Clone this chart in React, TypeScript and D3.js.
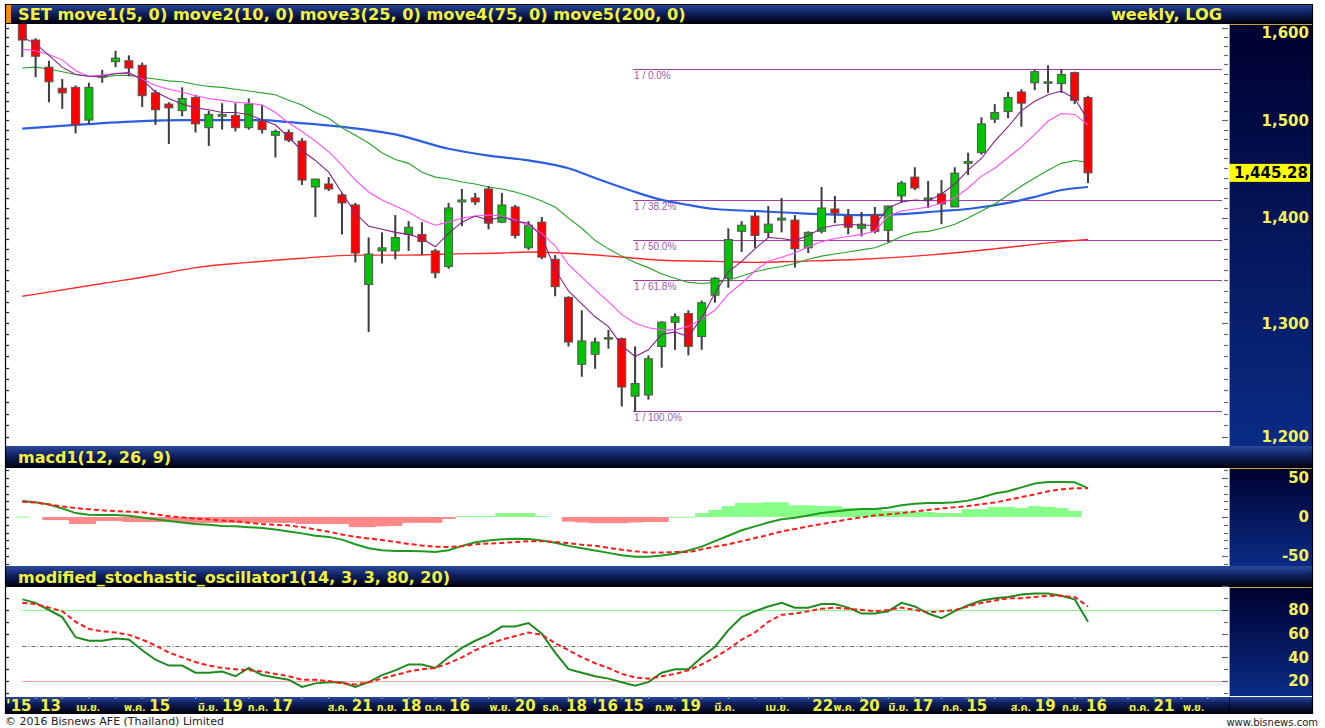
import React from "react";
import * as d3 from "d3";

// ---------- DATA (weekly SET index) ----------
const open = [1612,1587,1557,1534,1535,1500,1546,1563,1564,1559,1529,1517,1510,1524,1492,1504,1505,1492,1499,1484,1487,1478,1431,1434,1423,1413,1336,1368,1368,1384,1384,1368,1353,1416,1420,1429,1396,1411,1371,1396,1360,1324,1263,1272,1286,1286,1235,1236,1279,1301,1309,1288,1326,1342,1387,1402,1386,1398,1398,1371,1387,1409,1402,1390,1403,1388,1422,1441,1419,1424,1411,1455,1466,1501,1509,1530,1540,1540,1539,1551,1524];
const high = [1618,1589,1564,1544,1537,1540,1554,1575,1570,1562,1532,1519,1535,1527,1510,1518,1518,1523,1516,1490,1490,1481,1439,1441,1425,1415,1381,1386,1403,1397,1396,1370,1415,1429,1425,1432,1425,1413,1397,1401,1364,1325,1312,1287,1294,1287,1279,1271,1302,1309,1312,1321,1343,1390,1397,1406,1412,1420,1403,1387,1431,1422,1409,1406,1411,1412,1437,1451,1437,1438,1451,1466,1503,1517,1530,1533,1554,1559,1555,1552,1526];
const low = [1568,1546,1519,1512,1486,1496,1540,1557,1547,1514,1495,1475,1504,1487,1473,1490,1488,1490,1486,1461,1477,1433,1401,1427,1384,1357,1292,1356,1360,1368,1364,1342,1351,1392,1413,1389,1395,1380,1369,1360,1325,1279,1252,1259,1277,1226,1222,1232,1260,1276,1271,1276,1319,1333,1367,1371,1381,1386,1352,1366,1385,1395,1384,1382,1385,1376,1415,1428,1410,1394,1411,1443,1464,1497,1502,1493,1532,1529,1529,1517,1435];
const close = [1587,1569,1541,1529,1495,1535,1548,1567,1556,1526,1511,1513,1523,1496,1506,1506,1492,1517,1490,1488,1479,1438,1439,1429,1415,1366,1365,1371,1381,1391,1377,1347,1410,1418,1416,1395,1413,1383,1393,1362,1334,1283,1284,1283,1287,1243,1246,1268,1301,1306,1279,1319,1342,1379,1393,1383,1394,1400,1370,1386,1410,1405,1391,1394,1387,1412,1435,1430,1420,1414,1445,1457,1496,1508,1524,1518,1552,1541,1549,1521,1445.28];

const ma5 = [1590,1583,1570,1557,1549,1547,1547,1550,1551,1543,1530,1523,1517,1513,1511,1508,1508,1506,1500,1495,1482,1468,1458,1446,1425,1405,1392,1389,1386,1384,1380,1372,1385,1396,1402,1398,1401,1397,1395,1382,1350,1330,1318,1306,1297,1280,1270,1276,1290,1292,1288,1305,1328,1348,1358,1370,1381,1380,1378,1383,1390,1393,1394,1393,1393,1410,1416,1418,1417,1424,1434,1448,1460,1478,1493,1510,1520,1527,1531,1523,1500];
const ma10 = [1577,1575,1571,1565,1553,1547,1548,1550,1550,1544,1537,1533,1530,1526,1523,1521,1519,1518,1516,1508,1497,1488,1478,1467,1453,1438,1426,1418,1412,1406,1398,1393,1396,1400,1402,1403,1402,1398,1393,1385,1373,1355,1343,1331,1320,1308,1300,1296,1294,1294,1297,1304,1312,1327,1337,1349,1358,1362,1366,1372,1377,1380,1382,1384,1387,1402,1407,1409,1411,1415,1420,1430,1442,1450,1461,1472,1485,1499,1507,1506,1495];
const ma25 = [1556,1557,1555,1552,1549,1547,1546,1548,1548,1546,1544,1542,1541,1538,1536,1535,1533,1531,1529,1527,1521,1516,1508,1502,1492,1484,1476,1466,1459,1455,1446,1441,1439,1436,1434,1431,1429,1426,1422,1417,1411,1400,1390,1378,1370,1363,1357,1352,1346,1342,1338,1337,1338,1340,1344,1348,1351,1353,1356,1360,1363,1365,1367,1369,1371,1376,1382,1386,1387,1390,1394,1400,1407,1414,1423,1432,1440,1448,1455,1458,1456];
const ma75 = [[0,1491],[4,1495],[9,1499],[12,1500],[18,1500],[20,1498],[24,1493],[28,1485],[32,1470],[35,1463],[38,1458],[41,1450],[43,1440],[46,1426],[48,1418],[50,1413],[52,1409],[55,1407],[58,1405],[63,1403],[66,1404],[69,1407],[71,1409],[74,1415],[76,1421],[78,1428],[80,1431]];
const ma200 = [[0,1325],[6,1337],[10,1345],[13,1352],[17,1357],[21,1361],[25,1364],[29,1364],[32,1365],[36,1366],[38,1367],[42,1365],[46,1361],[48,1359],[52,1358],[55,1357],[58,1358],[63,1360],[68,1364],[73,1370],[78,1377],[80,1379]];

const macd = [20.5,19,16,11,5,3,2.6,2.6,1.5,-0.5,-3,-5,-7,-9,-10,-11.5,-12,-13,-14,-16,-18.5,-21,-24,-25.5,-29,-35,-40,-42.5,-43.5,-43.5,-44,-45,-42.5,-37,-32.5,-30,-28.5,-28,-28.2,-30,-33,-37,-40,-43,-46,-49,-51,-51,-49.5,-47,-43,-38,-31,-24,-17,-12,-7,-3,-1,2,5,7,9,10.3,10.3,12,15,17,18,18,19,21,25,30,33,38,43,45,45,44.5,37];
const signal = [19.5,18.5,16,13.5,11.5,10,8.5,7.5,6.8,6,3.5,1,-0.5,-2,-3,-4.5,-5.5,-7.5,-9,-10,-11,-13,-16,-19,-22.5,-25.5,-27.5,-29.5,-32,-34.5,-36.5,-38,-38.5,-37.5,-35,-34,-33.3,-32,-31,-31,-32,-33.5,-35.5,-37,-39.5,-42,-44,-45.5,-45.5,-45,-45,-41.5,-38,-35,-31,-27,-23,-18.5,-15.5,-12,-9,-6,-3,-0.5,2,3.5,5,7,9,11,12.5,14,16.5,18.5,22,25.5,29,33,35.5,37,37];
const hist = [0.5,0,-4,-4,-9,-9,-5,-5,-6.5,-6.5,-6.5,-6.5,-7.5,-7.5,-7.5,-7.5,-7.5,-7.5,-7.5,-7.5,-7.5,-9,-9,-9,-9,-13,-13,-12,-11.5,-7.5,-7.5,-7.5,-2.5,1.3,1.3,1.3,5,5,5,1.3,0,-6,-7,-8,-8,-8,-7,-6.5,-6.5,0.4,0.4,5,9,14,18,18,19,19,15,15,14,14,11.5,11.5,11.5,7.7,7.7,6.4,6.4,5,5,10,10,13,13,11.5,14,13,11.5,7.7,null];

const stochK = [89,86,80,74,57,54,54,56,55,46,38,33,33,27,27,28,24,31,25,23,21,15,18,19,19,15,19,25,29,34,34,31,40,48,54,59,66,66,69,60,44,30,27,24,22,19,16,19,27,30,30,40,49,63,74,79,83,86,82,82,85,85,82,77,77,79,86,83,77,73,79,84,88,90,91,93,94,94,92,89,70];
const stochD = [86,85,82,79,70,64,62,61,59,55,50,44,40,36,33,31,30,29,28,26,24,21,21,20,18,17,19,22,25,28,30,31,35,40,46,51,55,58,61,59,52,46,40,35,31,26,23,22,24,26,29,34,40,47,55,61,70,76,77,79,81,82,81,80,79,80,82,80,78,79,80,83,86,88,90,90,91,92,92,91,83];

const priceTicks = [1200, 1300, 1400, 1500, 1600];
const macdTicks = [50, 0, -50];
const stochTicks = [80, 60, 40, 20];
const stochLevels = [80, 50, 20];
const fibRatios = [0, 0.382, 0.5, 0.618, 1];
const fibLabels = ["1 / 0.0%", "1 / 38.2%", "1 / 50.0%", "1 / 61.8%", "1 / 100.0%"];
const fibHigh = 1555;
const fibLow = 1222;
const fibStartWeek = 46;
const lastPrice = 1445.28;

const xLabels = [
  { pos: -1.22, month: "", day: "'15" },
  { pos: 1.33, month: "", day: "13" },
  { pos: 4.03, month: "เม.ย.", day: "" },
  { pos: 7.63, month: "พ.ค.", day: "15" },
  { pos: 13.18, month: "มิ.ย.", day: "19" },
  { pos: 16.93, month: "ก.ค.", day: "17" },
  { pos: 22.93, month: "ส.ค.", day: "21" },
  { pos: 26.6, month: "ก.ย.", day: "18" },
  { pos: 30.2, month: "ต.ค.", day: "16" },
  { pos: 35.08, month: "พ.ย.", day: "20" },
  { pos: 39.05, month: "ธ.ค.", day: "18" },
  { pos: 42.8, month: "", day: "'16 15" },
  { pos: 47.5, month: "ก.พ.", day: "19" },
  { pos: 51.95, month: "มี.ค.", day: "" },
  { pos: 55.78, month: "เม.ย.", day: "" },
  { pos: 59.3, month: "", day: "22" },
  { pos: 60.9, month: "พ.ค.", day: "20" },
  { pos: 65.0, month: "มิ.ย.", day: "17" },
  { pos: 69.05, month: "ก.ค.", day: "15" },
  { pos: 74.2, month: "ส.ค.", day: "19" },
  { pos: 78.05, month: "ก.ย.", day: "16" },
  { pos: 83.08, month: "ต.ค.", day: "21" },
  { pos: 87.13, month: "พ.ย.", day: "" },
];

const titleMain = "SET move1(5, 0) move2(10, 0) move3(25, 0) move4(75, 0) move5(200, 0)";
const titleRight = "weekly, LOG";
const titleMacd = "macd1(12, 26, 9)";
const titleStoch = "modified_stochastic_oscillator1(14, 3, 3, 80, 20)";

// ---------- LAYOUT ----------
const FL = 5, FR = 1313;
const L = 6, R = 1228, AX = 1229;
const main = { top: 24, bottom: 446 };
const mac = { top: 468, bottom: 566 };
const sto = { top: 587, bottom: 696 };
const BOLD = "'DejaVu Sans', Verdana, sans-serif";
const THAI = "Tahoma, 'Noto Sans Thai', 'Noto Sans Thai UI', 'DejaVu Sans', sans-serif";

export default function App() {
  const x = d3.scaleLinear().domain([0, 80]).range([22.3, 1088]);
  const step = x(1) - x(0);
  const yP = d3.scaleLog().domain([1200, 1600]).range([437, 437 - 3270 * Math.log10(1600 / 1200)]);
  const yM = d3.scaleLinear().domain([-50, 50]).range([556, 478]);
  const yS = d3.scaleLinear().domain([20, 80]).range([681, 610]);

  const idxLine = (ys: (v: number) => number) =>
    d3.line<number>().x((_, i) => x(i)).y((d) => ys(d));
  const pairLine = d3
    .line<number[]>()
    .x((d) => x(d[0]))
    .y((d) => yP(d[1]))
    .curve(d3.curveMonotoneX);

  const fibLog = (r: number) =>
    Math.exp(Math.log(fibHigh) - r * (Math.log(fibHigh) - Math.log(fibLow)));

  const header = (y0: number, y1: number, key: string) => (
    <rect key={key} x={FL} y={y0} width={FR - FL} height={y1 - y0} fill="url(#hdr)" />
  );
  const axisPanel = (y0: number, y1: number, key: string) => (
    <g key={key}>
      <rect x={AX} y={y0} width={FR - AX} height={y1 - y0} fill="url(#axg)" />
      <line x1={AX + 0.5} x2={AX + 0.5} y1={y0} y2={y1} stroke="#c9a24a" strokeWidth={1} />
      <line x1={AX} x2={FR} y1={y0 + 0.5} y2={y0 + 0.5} stroke="#c9a24a" strokeWidth={1} />
    </g>
  );

  const ticks = (vals: number[], ys: (v: number) => number, isMajor: (v: number) => boolean, key: string) => (
    <g key={key}>
      {vals.map((v, k) => {
        const y = Math.round(ys(v)) + 0.5;
        const maj = isMajor(v);
        return (
          <g key={k}>
            <line x1={L} x2={L + 3} y1={y} y2={y} stroke="#222" strokeWidth={1.2} />
            <line x1={R - (maj ? 6 : 4)} x2={R} y1={y} y2={y} stroke="#666" strokeWidth={1.2} />
          </g>
        );
      })}
    </g>
  );

  const priceMinor = d3.range(1200, 1601, 10);
  const macdMinor = d3.range(-60, 61, 10);
  const stochMinor = d3.range(10, 101, 10);

  const rightLabel = (text: string, y: number, key: string) => (
    <text key={key} x={1309} y={y} dy="0.36em" textAnchor="end" fontFamily={BOLD} fontWeight="bold" fontSize={15} fill="#f2f25a">
      {text}
    </text>
  );

  return (
    <svg width={1325} height={728} style={{ position: "absolute", left: 0, top: 0, background: "#fff" }}>
      <defs>
        <linearGradient id="hdr" x1="0" y1="0" x2="0" y2="1">
          <stop offset="0%" stopColor="#2c4a9c" />
          <stop offset="45%" stopColor="#0f2060" />
          <stop offset="100%" stopColor="#00000a" />
        </linearGradient>
        <linearGradient id="axg" x1="0" y1="0" x2="0" y2="1">
          <stop offset="0%" stopColor="#000030" />
          <stop offset="100%" stopColor="#0a2c86" />
        </linearGradient>
        <linearGradient id="xbar" x1="0" y1="0" x2="0" y2="1">
          <stop offset="0%" stopColor="#2a4aa0" />
          <stop offset="40%" stopColor="#0c1c58" />
          <stop offset="100%" stopColor="#000008" />
        </linearGradient>
        <clipPath id="clipMain">
          <rect x={L} y={main.top} width={R - L} height={main.bottom - main.top} />
        </clipPath>
        <clipPath id="clipMacd">
          <rect x={L} y={mac.top} width={R - L} height={mac.bottom - mac.top} />
        </clipPath>
        <clipPath id="clipSto">
          <rect x={L} y={sto.top} width={R - L} height={sto.bottom - sto.top} />
        </clipPath>
      </defs>

      {/* plot backgrounds */}
      <rect x={L} y={main.top} width={R - L} height={main.bottom - main.top} fill="#fff" />

      {/* headers */}
      {header(4, main.top, "h1")}
      {header(main.bottom, mac.top, "h2")}
      {header(mac.bottom, sto.top, "h3")}
      <rect x={FL + 1} y={5} width={5} height={18} fill="#ff8c00" />
      <text x={18} y={19.5} fontFamily={BOLD} fontWeight="bold" fontSize={16.2} fill="#f2f23c">{titleMain}</text>
      <text x={1222} y={19.5} textAnchor="end" fontFamily={BOLD} fontWeight="bold" fontSize={16.2} fill="#f2f23c">{titleRight}</text>
      <text x={18} y={463} fontFamily={BOLD} fontWeight="bold" fontSize={16} fill="#f2f23c">{titleMacd}</text>
      <text x={18} y={583} fontFamily={BOLD} fontWeight="bold" fontSize={16} fill="#f2f23c">{titleStoch}</text>

      {/* axis panels */}
      {axisPanel(main.top, main.bottom, "a1")}
      {axisPanel(mac.top, mac.bottom, "a2")}
      {axisPanel(sto.top, sto.bottom, "a3")}

      {/* ---------- MAIN PANEL ---------- */}
      <g clipPath="url(#clipMain)">
        {/* fibonacci retracement */}
        {fibRatios.map((r, k) => {
          const y = Math.round(yP(fibLog(r))) + 0.5;
          return (
            <g key={k}>
              <line x1={x(fibStartWeek) - 2} x2={R - 6} y1={y} y2={y} stroke="#a23fa2" strokeWidth={1} />
              <text x={x(fibStartWeek) - 1} y={y + 9.5} fontFamily="'Liberation Sans', Arial, sans-serif" fontSize={10} fill="#9560a8">
                {fibLabels[k]}
              </text>
            </g>
          );
        })}
        {/* long MAs */}
        <path d={pairLine(ma200) || ""} fill="none" stroke="#ff2a2a" strokeWidth={1.4} />
        <path d={pairLine(ma75) || ""} fill="none" stroke="#2b5fe0" strokeWidth={2.2} />
        <path d={idxLine(yP)(ma25) || ""} fill="none" stroke="#27a327" strokeWidth={1.1} />
        {/* candles */}
        {close.map((c, i) => {
          const o = open[i];
          const up = c >= o;
          const yo = yP(o), yc = yP(c);
          const top = Math.min(yo, yc);
          const h = Math.max(1.5, Math.abs(yo - yc));
          return (
            <g key={i}>
              <line x1={x(i)} x2={x(i)} y1={yP(high[i])} y2={yP(low[i])} stroke="#3c3c3c" strokeWidth={2} />
              <rect x={x(i) - 4} y={top} width={8} height={h} fill={up ? "#00c400" : "#ff0000"} stroke="#555" strokeWidth={1} />
            </g>
          );
        })}
        <path d={idxLine(yP)(ma10) || ""} fill="none" stroke="#ff4cff" strokeWidth={1.1} />
        <path d={idxLine(yP)(ma5) || ""} fill="none" stroke="#86208a" strokeWidth={1.1} />
      </g>
      {ticks(priceMinor, yP, (v) => v % 100 === 0, "tp")}
      {priceTicks.map((v, k) =>
        rightLabel(d3.format(",")(v), Math.max(yP(v), main.top + 9), "pl" + k)
      )}
      <rect x={AX} y={yP(lastPrice) - 9} width={81} height={18} fill="#ffff00" />
      <text x={1308} y={yP(lastPrice)} dy="0.36em" textAnchor="end" fontFamily={BOLD} fontWeight="bold" fontSize={15} fill="#000">
        {d3.format(",.2f")(lastPrice)}
      </text>

      {/* ---------- MACD PANEL ---------- */}
      <g clipPath="url(#clipMacd)">
        {hist.map((v, i) => {
          if (v === null || v === 0) return null;
          const y0 = yM(0), y1 = yM(v);
          return (
            <rect key={i} x={x(i) - step / 2} y={Math.min(y0, y1)} width={step + 0.4} height={Math.max(1, Math.abs(y1 - y0))} fill={v > 0 ? "#88ff88" : "#ff8888"} />
          );
        })}
        <path d={idxLine(yM)(macd) || ""} fill="none" stroke="#1f9a1f" strokeWidth={2} />
        <path d={idxLine(yM)(signal) || ""} fill="none" stroke="#ff1a1a" strokeWidth={2} strokeDasharray="5,3" />
      </g>
      {ticks(macdMinor, yM, (v) => v % 50 === 0, "tm")}
      {macdTicks.map((v, k) => rightLabel(String(v), yM(v), "ml" + k))}

      {/* ---------- STOCHASTIC PANEL ---------- */}
      <g clipPath="url(#clipSto)">
        {stochLevels.map((lv, k) => (
          <line key={k} x1={x(0)} x2={R} y1={Math.round(yS(lv)) + 0.5} y2={Math.round(yS(lv)) + 0.5}
            stroke={lv === 80 ? "#33ee33" : lv === 20 ? "#ff5a5a" : "#707070"} strokeWidth={1}
            strokeDasharray={lv === 50 ? "4,2,1,2" : "1,1"} />
        ))}
        <path d={idxLine(yS)(stochK) || ""} fill="none" stroke="#1f8a1f" strokeWidth={2} />
        <path d={idxLine(yS)(stochD) || ""} fill="none" stroke="#ff1a1a" strokeWidth={2} strokeDasharray="5,3" />
      </g>
      {ticks(stochMinor, yS, (v) => v % 20 === 0, "ts")}
      {stochTicks.map((v, k) => rightLabel(String(v), yS(v), "sl" + k))}

      {/* ---------- X AXIS ---------- */}
      <rect x={FL} y={697} width={FR - FL} height={17} fill="url(#xbar)" />
      <rect x={AX} y={697} width={FR - AX} height={17} fill="url(#xbar)" />
      <line x1={AX + 0.5} x2={AX + 0.5} y1={697} y2={714} stroke="#000" />
      {d3.range(1, 91, 2).map((i) => (
        <line key={i} x1={x(i)} x2={x(i)} y1={696} y2={699} stroke="#9aa" strokeWidth={1} />
      ))}
      {xLabels.map((lb, k) => (
        <text key={k} x={x(lb.pos)} y={711} fill="#f2f23c" fontWeight="bold">
          {lb.month ? (
            <tspan fontFamily={THAI} fontSize={11}>{lb.month}</tspan>
          ) : null}
          {lb.day ? (
            <tspan fontFamily={BOLD} fontSize={15} dx={lb.month ? 4 : 0}>{lb.day}</tspan>
          ) : null}
        </text>
      ))}

      {/* frame */}
      <line x1={FL + 0.5} x2={FL + 0.5} y1={4} y2={714} stroke="#000" strokeWidth={1.2} />
      <line x1={FR - 0.5} x2={FR - 0.5} y1={4} y2={714} stroke="#000" strokeWidth={1.2} />
      <line x1={FL} x2={FR} y1={4.5} y2={4.5} stroke="#000" strokeWidth={1} />

      {/* footer */}
      <text x={5} y={725} fontFamily="Tahoma, 'DejaVu Sans', sans-serif" fontSize={11} fill="#222">© 2016 Bisnews AFE (Thailand) Limited</text>
      <text x={1318} y={726} textAnchor="end" fontFamily="Tahoma, 'DejaVu Sans', sans-serif" fontSize={10} fill="#222">www.bisnews.com</text>
    </svg>
  );
}
